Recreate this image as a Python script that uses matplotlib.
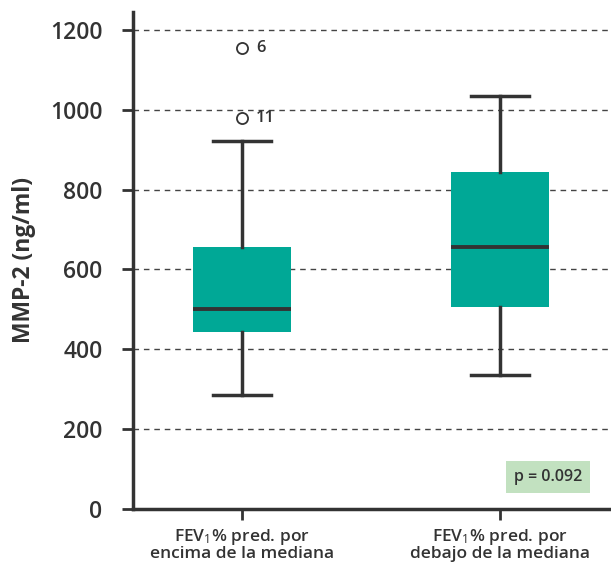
import matplotlib
matplotlib.use("Agg")
import matplotlib.pyplot as plt

# datos
grupos = ["FEV$_1$% pred. por\nencima de la mediana",
          "FEV$_1$% pred. por\ndebajo de la mediana"]
minimos = [286, 336]
q1 = [444, 506]
medianas = [501, 657]
q3 = [657, 843]
maximos = [922, 1034]
atipicos = [[1155, 980], []]
etiquetas_atipicos = [["6", "11"], []]
p_valor = "p = 0.092"

plt.rcParams["font.family"] = ["Open Sans", "DejaVu Sans"]
plt.rcParams["mathtext.fontset"] = "custom"
plt.rcParams["mathtext.rm"] = "Open Sans"
plt.rcParams["mathtext.it"] = "Open Sans"
plt.rcParams["mathtext.bf"] = "Open Sans:bold"

gris = "#333333"
verde = "#00a896"

fig = plt.figure(figsize=(6.11, 5.68), dpi=100)
ax = fig.add_axes([0.2177, 0.104, 0.782, 0.875])

stats = []
for i in range(len(grupos)):
    stats.append({"whislo": minimos[i], "q1": q1[i], "med": medianas[i],
                  "q3": q3[i], "whishi": maximos[i], "fliers": atipicos[i]})

ax.bxp(stats, positions=[1, 2], widths=0.38, patch_artist=True,
       capwidths=0.225,
       boxprops=dict(facecolor=verde, edgecolor=verde, linewidth=0),
       medianprops=dict(color=gris, linewidth=2.8, solid_capstyle="butt"),
       whiskerprops=dict(color=gris, linewidth=2.5),
       capprops=dict(color=gris, linewidth=2.5),
       flierprops=dict(marker="o", markerfacecolor="none", markeredgecolor=gris,
                       markersize=8, markeredgewidth=1.3))

for i, (vals, labs) in enumerate(zip(atipicos, etiquetas_atipicos)):
    for v, t in zip(vals, labs):
        ax.text(i + 1 + 0.055, v, t, va="center", ha="left", fontsize=12,
                color=gris, fontweight="semibold")

ax.set_ylim(0, 1245)
ax.set_xlim(0.578, 2.43)
ax.set_yticks(range(0, 1201, 200))
ax.set_xticks([1, 2])
ax.set_xticklabels(grupos, fontsize=12.5, color=gris, fontweight="semibold",
                   linespacing=0.95)
for lab in ax.get_yticklabels():
    lab.set_fontsize(16.5)
    lab.set_color(gris)
    lab.set_fontweight("semibold")

for y in range(200, 1201, 200):
    ax.axhline(y, color="#444444", linestyle=(0, (4, 3.5)), linewidth=1.0, zorder=0)

ax.set_ylabel("MMP-2 (ng/ml)", fontsize=16.5, fontweight="bold", color=gris,
              labelpad=10)

for s in ["top", "right"]:
    ax.spines[s].set_visible(False)
for s in ["left", "bottom"]:
    ax.spines[s].set_color(gris)
    ax.spines[s].set_linewidth(2.5)
ax.tick_params(axis="y", length=8, width=2, color=gris, pad=14)
ax.tick_params(axis="x", length=8, width=2, color=gris, pad=5)

ax.text(2.186, 80, p_valor, ha="center", va="center", fontsize=11.5, color=gris,
        fontweight="semibold",
        bbox=dict(boxstyle="square,pad=0.5", facecolor="#c2e1c0", edgecolor="none"))

fig.savefig("out.png", dpi=100)
